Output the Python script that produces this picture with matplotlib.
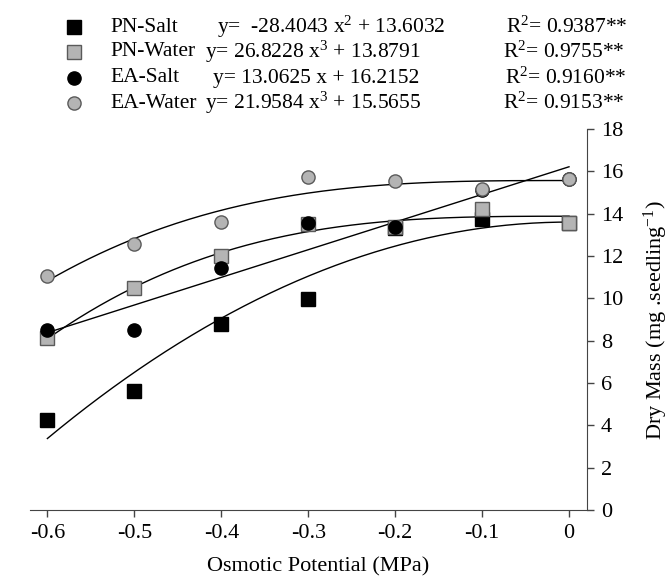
import numpy as np
import matplotlib
matplotlib.use("Agg")
import matplotlib.pyplot as plt

plt.rcParams['font.family'] = ['Liberation Serif', 'DejaVu Serif']
plt.rcParams['mathtext.fontset'] = 'custom'
plt.rcParams['mathtext.rm'] = 'Liberation Serif'
plt.rcParams['mathtext.it'] = 'Liberation Serif:italic'

# Data
x_vals = [-0.6, -0.5, -0.4, -0.3, -0.2, -0.1, 0.0]
pn_salt = [4.25, 5.64, 8.77, 9.97, 13.30, 13.73, 13.55]
pn_water = [8.11, 10.47, 12.00, 13.52, 13.38, 14.22, 13.54]
ea_salt = [8.50, 8.50, 11.45, 13.54, 13.38, 15.10, 15.62]
ea_water = [11.05, 12.55, 13.62, 15.71, 15.54, 15.15, 15.64]

# Fitted equations: y = a * x^p + b
pn_salt_fit = (-28.4043, 2, 13.6032)
pn_water_fit = (26.8228, 3, 13.8791)
ea_salt_fit = (13.0625, 1, 16.2152)
ea_water_fit = (21.9584, 3, 15.5655)

series_names = ["PN-Salt", "PN-Water", "EA-Salt", "EA-Water"]
equations = [r"y=  -28.4043 x$^{2}$ + 13.6032",
             r"y= 26.8228 x$^{3}$ + 13.8791",
             r"y= 13.0625 x + 16.2152",
             r"y= 21.9584 x$^{3}$ + 15.5655"]
r2_labels = [r"R$^{2}$= 0.9387**", r"R$^{2}$= 0.9755**",
             r"R$^{2}$= 0.9160**", r"R$^{2}$= 0.9153**"]
x_ticks = [-0.6, -0.5, -0.4, -0.3, -0.2, -0.1, 0]
x_ticklabels = ["-0.6", "-0.5", "-0.4", "-0.3", "-0.2", "-0.1", "0"]
y_ticks = [0, 2, 4, 6, 8, 10, 12, 14, 16, 18]

W, H = 672, 579
fig = plt.figure(figsize=(W/100, H/100), dpi=100)
ax = fig.add_axes([30/W, 1-510/H, (587-30)/W, (510-129)/H])

gray = '#b4b4b4'
edge_gray = '#5a5a5a'
styles = [
    dict(marker='s', color='black', mec='black'),
    dict(marker='s', color=gray, mec=edge_gray),
    dict(marker='o', color='black', mec='black'),
    dict(marker='o', color=gray, mec=edge_gray),
]
fits = [pn_salt_fit, pn_water_fit, ea_salt_fit, ea_water_fit]
data = [pn_salt, pn_water, ea_salt, ea_water]

xf = np.linspace(-0.6, 0.0, 200)
for (a, p, b) in fits:
    ax.plot(xf, a * xf**p + b, color='black', lw=1.0, zorder=2)

for i, (d, st) in enumerate(zip(data, styles)):
    ax.plot(x_vals, d, linestyle='none', marker=st['marker'], ms=9.5,
            mfc=st['color'], mec=st['mec'], mew=1.0, zorder=3 + i)

ax.set_xlim(-0.62, 0.0207)
ax.set_ylim(0, 18)
ax.spines['top'].set_visible(False)
ax.spines['left'].set_visible(False)
ax.spines['bottom'].set_color('#444444')
ax.spines['right'].set_color('#444444')
ax.yaxis.tick_right()
ax.set_xticks(x_ticks)
ax.set_xticklabels(x_ticklabels)
ax.set_yticks(y_ticks)
ax.tick_params(axis='both', direction='out', length=5, width=1, color='#444444',
               labelsize=16, pad=5)
ax.tick_params(axis='y', right=True, left=False, labelright=True, labelleft=False)

fig.text(318/W, 1-567/H, "Osmotic Potential (MPa)", ha='center', va='center', fontsize=16)
fig.text(656/W, 1-320/H, r"Dry Mass (mg .seedling$^{-1}$)", ha='center', va='center',
         rotation=90, fontsize=16)

# Legend block
row_y = [27, 52, 78, 103]
eq_x = [217, 205, 213, 205]
r2_x = [506, 503, 505, 503]
for i in range(4):
    yy = 1 - row_y[i]/H
    st = styles[i]
    fig.lines.append(matplotlib.lines.Line2D([74/W], [yy], transform=fig.transFigure,
                     linestyle='none', marker=st['marker'], ms=9.5,
                     mfc=st['color'], mec=st['mec'], mew=1.0))
    fig.text(110/W, yy, series_names[i], ha='left', va='center', fontsize=15.5)
    fig.text(eq_x[i]/W, yy, equations[i], ha='left', va='center', fontsize=15.5)
    fig.text(r2_x[i]/W, yy, r2_labels[i], ha='left', va='center', fontsize=15.5)

fig.savefig("out.png", dpi=100)
